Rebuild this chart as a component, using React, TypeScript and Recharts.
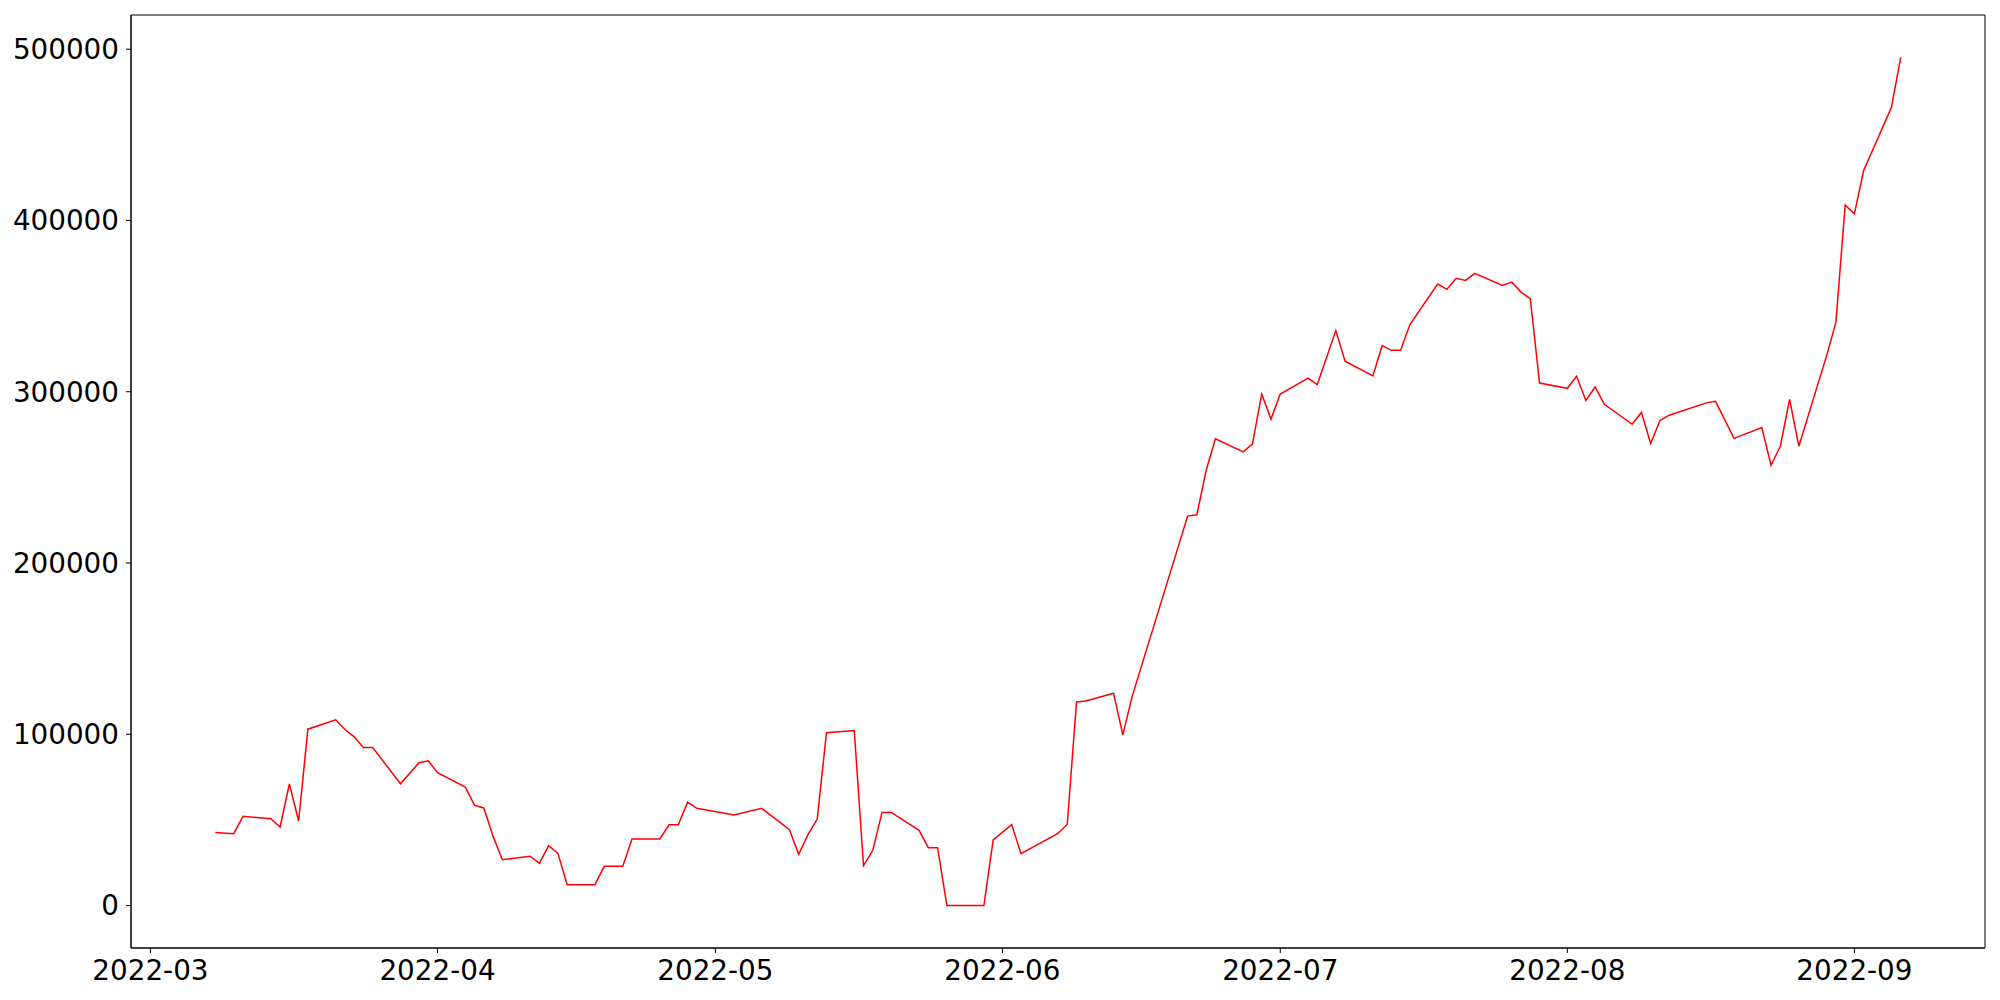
import { LineChart, Line, XAxis, YAxis, ReferenceArea } from 'recharts'

// trading days
const dates = [
  '2022-03-08', '2022-03-10', '2022-03-11', '2022-03-14', '2022-03-15', '2022-03-16', '2022-03-17', '2022-03-18',
  '2022-03-21', '2022-03-22', '2022-03-23', '2022-03-24', '2022-03-25', '2022-03-28', '2022-03-30', '2022-03-31',
  '2022-04-01', '2022-04-04', '2022-04-05', '2022-04-06', '2022-04-07', '2022-04-08', '2022-04-11', '2022-04-12',
  '2022-04-13', '2022-04-14', '2022-04-15', '2022-04-18', '2022-04-19', '2022-04-20', '2022-04-21', '2022-04-22',
  '2022-04-25', '2022-04-26', '2022-04-27', '2022-04-28', '2022-04-29', '2022-05-03', '2022-05-06', '2022-05-09',
  '2022-05-10', '2022-05-11', '2022-05-12', '2022-05-13', '2022-05-16', '2022-05-17', '2022-05-18', '2022-05-19',
  '2022-05-20', '2022-05-23', '2022-05-24', '2022-05-25', '2022-05-26', '2022-05-27', '2022-05-30', '2022-05-31',
  '2022-06-02', '2022-06-03', '2022-06-07', '2022-06-08', '2022-06-09', '2022-06-10', '2022-06-13', '2022-06-14',
  '2022-06-15', '2022-06-21', '2022-06-22', '2022-06-23', '2022-06-24', '2022-06-27', '2022-06-28', '2022-06-29',
  '2022-06-30', '2022-07-01', '2022-07-04', '2022-07-05', '2022-07-07', '2022-07-08', '2022-07-11', '2022-07-12',
  '2022-07-13', '2022-07-14', '2022-07-15', '2022-07-18', '2022-07-19', '2022-07-20', '2022-07-21', '2022-07-22',
  '2022-07-25', '2022-07-26', '2022-07-27', '2022-07-28', '2022-07-29', '2022-08-01', '2022-08-02', '2022-08-03',
  '2022-08-04', '2022-08-05', '2022-08-08', '2022-08-09', '2022-08-10', '2022-08-11', '2022-08-12', '2022-08-16',
  '2022-08-17', '2022-08-19', '2022-08-22', '2022-08-23', '2022-08-24', '2022-08-25', '2022-08-26', '2022-08-29',
  '2022-08-30', '2022-08-31', '2022-09-01', '2022-09-02', '2022-09-05', '2022-09-06',
]

const values = [
  42700, 42000, 52100, 50700, 45900, 71100, 49400, 103000,
  108500, 102800, 98500, 92300, 92300, 71100, 83400, 84500,
  77600, 69200, 58500, 57000, 40400, 26800, 28800, 24600,
  35000, 30500, 12200, 12200, 22900, 22900, 22900, 38900,
  38900, 47200, 47200, 60400, 56800, 52900, 56800, 44300,
  29900, 41400, 50500, 100900, 102200, 23300, 32300, 54400,
  54400, 43900, 33800, 33800, 0, 0, 0, 38300,
  47300, 30300, 42100, 47500, 118900, 119500, 124000, 99700,
  122000, 227400, 228200, 254200, 272500, 264900, 269600, 298700,
  284100, 298700, 308000, 304200, 335700, 317800, 309200, 326900,
  324200, 324200, 339200, 362900, 359800, 366200, 365000, 369100,
  362100, 364000, 358200, 354300, 305100, 302000, 309000, 294900,
  302800, 292700, 281000, 287900, 269800, 283200, 286300, 293500,
  294400, 272800, 279100, 257100, 268200, 295600, 268200, 321100,
  340500, 408900, 403900, 429200, 466100, 495200,
]

const monthTicks = ['2022-03-01', '2022-04-01', '2022-05-01', '2022-06-01', '2022-07-01', '2022-08-01', '2022-09-01']
const yTicks = [0, 100000, 200000, 300000, 400000, 500000]

const toTime = (d: string) => Date.parse(d + 'T00:00:00Z')

const data = dates.map((d, i) => ({ t: toTime(d), v: values[i] }))

// matplotlib-style 5% padding
const pad = (lo: number, hi: number): [number, number] => {
  const m = (hi - lo) * 0.05
  return [lo - m, hi + m]
}
const xDomain = pad(data[0].t, data[data.length - 1].t)
const yDomain = pad(Math.min(...values), Math.max(...values))

const TICK = { fontFamily: 'DejaVu Sans', fontSize: 27.8, fill: '#000' }

const fmtMonth = (t: number) => {
  const d = new Date(t)
  return `${d.getUTCFullYear()}-${String(d.getUTCMonth() + 1).padStart(2, '0')}`
}

export default function App() {
  return (
    <div style={{ position: 'absolute', left: 0, top: 0, background: '#fff' }}>
      <LineChart width={2000} height={1000} data={data} margin={{ top: 15, right: 15, bottom: 0, left: 0 }}>
        <XAxis
          dataKey="t"
          type="number"
          domain={xDomain}
          ticks={monthTicks.map(toTime)}
          tickFormatter={fmtMonth}
          tick={TICK}
          stroke="#000"
          tickSize={5}
          tickMargin={7}
          height={52}
          allowDataOverflow
        />
        <YAxis
          type="number"
          domain={yDomain}
          ticks={yTicks}
          tick={TICK}
          stroke="#000"
          tickSize={5}
          tickMargin={7}
          width={131}
          allowDataOverflow
        />
        <ReferenceArea
          x1={xDomain[0]}
          x2={xDomain[1]}
          y1={yDomain[0]}
          y2={yDomain[1]}
          fill="none"
          stroke="#000"
          strokeWidth={1}
          ifOverflow="visible"
        />
        <Line
          type="linear"
          dataKey="v"
          stroke="#ff0000"
          strokeWidth={1.5}
          dot={false}
          isAnimationActive={false}
        />
      </LineChart>
    </div>
  )
}
